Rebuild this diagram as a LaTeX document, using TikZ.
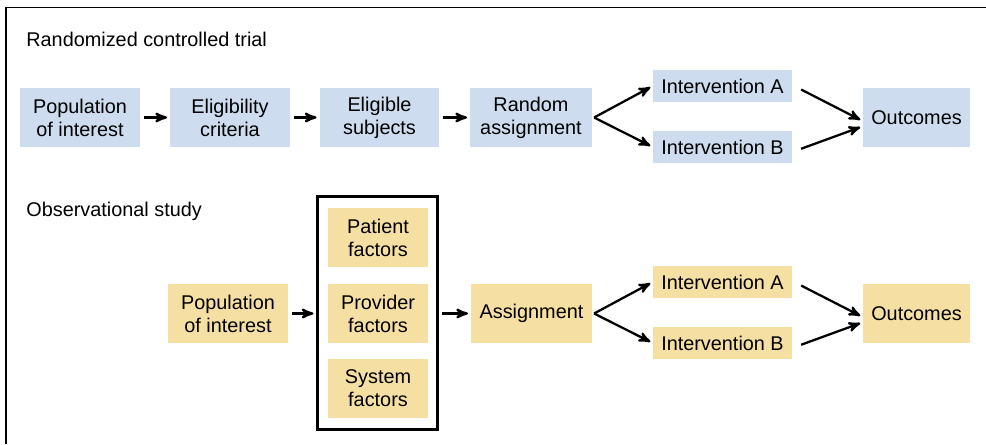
\documentclass[tikz,border=0pt]{standalone}
\usepackage{fontspec}
\setmainfont{Liberation Sans}
\usetikzlibrary{arrows}

\definecolor{rctblue}{RGB}{205,220,238}
\definecolor{obsyellow}{RGB}{246,223,162}

\tikzset{
  box/.style={rectangle, align=center, inner sep=0pt,
    minimum width=2.4cm, minimum height=1.18cm,
    font=\fontsize{11.3}{13}\selectfont},
  rct/.style={box, fill=rctblue},
  obs/.style={box, fill=obsyellow},
  arm/.style={minimum width=2.78cm, minimum height=0.64cm},
  flow/.style={line width=1.3pt, -stealth', shorten >=1.5pt, shorten <=2pt},
  heading/.style={anchor=west, inner sep=0pt, font=\fontsize{11.3}{13}\selectfont}
}

\begin{document}
\begin{tikzpicture}[x=0.02cm, y=-0.02cm]
  \useasboundingbox (0,0) rectangle (986,444);
  % open frame
  \draw[line width=0.8pt] (6,444) -- (6,7.5) -- (986,7.5);

  % randomized controlled trial
  \node[heading] (RCTTitle) at (26,39) {Randomized controlled trial};
  \node[rct] (Population)  at (80,117.5)  {Population\\of interest};
  \node[rct] (Eligibility) at (230,117.5) {Eligibility\\criteria};
  \node[rct] (Eligible)    at (379.5,117.5) {Eligible\\subjects};
  \node[rct, minimum width=2.44cm] (Random) at (531,117.5) {Random\\assignment};
  \node[rct, arm] (IntA) at (722.5,86)  {Intervention A};
  \node[rct, arm] (IntB) at (722.5,147) {Intervention B};
  \node[rct, minimum width=2.14cm] (Outcomes) at (916.5,117.5) {Outcomes};
  \draw[flow] (Population) -- (Eligibility);
  \draw[flow] (Eligibility) -- (Eligible);
  \draw[flow] (Eligible) -- (Random);
  \draw[flow, shorten <=0pt] ([xshift=1pt]Random.east) -- (IntA.west);
  \draw[flow, shorten <=0pt] ([xshift=1pt]Random.east) -- (IntB.west);
  \draw[flow, shorten <=0pt] ([xshift=5pt,yshift=-2pt]IntA.east) -- ([yshift=-2pt]Outcomes.west);
  \draw[flow, shorten <=0pt] ([xshift=5pt,yshift=-1pt]IntB.east) -- ([yshift=-5pt]Outcomes.west);

  % observational study
  \node[heading] (ObsTitle) at (26,211) {Observational study};
  \node[obs] (ObsPopulation) at (228,313.5) {Population\\of interest};
  \node[draw, line width=1.6pt, minimum width=2.4cm, minimum height=4.66cm] (Factors) at (377.5,313) {};
  \node[obs, minimum width=2cm] (Patient)  at (378,237.5) {Patient\\factors};
  \node[obs, minimum width=2cm] (Provider) at (378,313.5) {Provider\\factors};
  \node[obs, minimum width=2cm] (System)   at (378,388.5) {System\\factors};
  \node[obs, minimum width=2.42cm] (Assignment) at (531.5,313.5) {Assignment};
  \node[obs, arm] (ObsIntA) at (722.5,282) {Intervention A};
  \node[obs, arm] (ObsIntB) at (722.5,343) {Intervention B};
  \node[obs, minimum width=2.14cm] (ObsOutcomes) at (916.5,313.5) {Outcomes};
  \draw[flow] (ObsPopulation) -- (ObsPopulation -| Factors.west);
  \draw[flow] (Factors.east |- Assignment) -- (Assignment);
  \draw[flow, shorten <=0pt] ([xshift=1pt]Assignment.east) -- (ObsIntA.west);
  \draw[flow, shorten <=0pt] ([xshift=1pt]Assignment.east) -- (ObsIntB.west);
  \draw[flow, shorten <=0pt] ([xshift=5pt,yshift=-2pt]ObsIntA.east) -- ([yshift=-2pt]ObsOutcomes.west);
  \draw[flow, shorten <=0pt] ([xshift=5pt,yshift=-1pt]ObsIntB.east) -- ([yshift=-5pt]ObsOutcomes.west);
\end{tikzpicture}
\end{document}
